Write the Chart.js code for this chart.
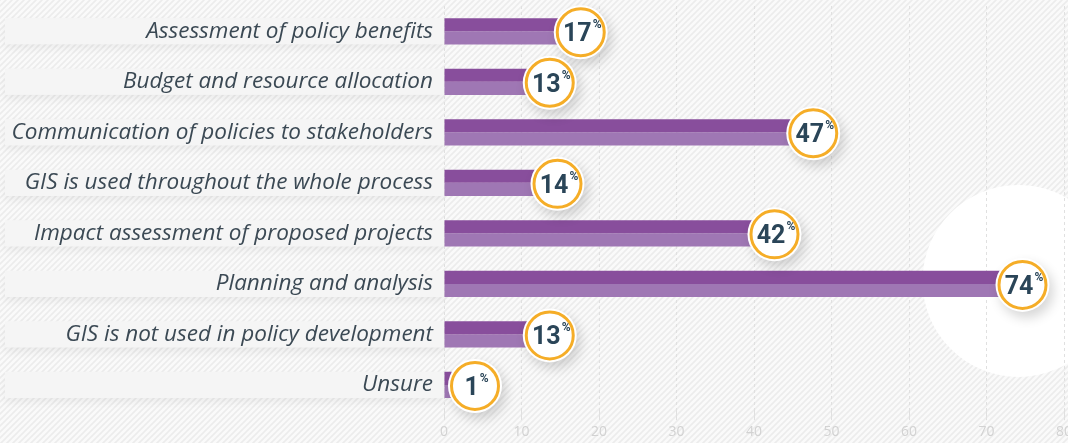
<!DOCTYPE html>
<html>
<head>
<meta charset="utf-8">
<script src="https://cdn.jsdelivr.net/npm/chart.js@4.4.1/dist/chart.umd.min.js"></script>
<style>
  body { margin: 0; background: #fff; }
  #wrap { width: 1068px; height: 443px; position: relative; }
</style>
</head>
<body>
<div id="wrap"><canvas id="gisChart"></canvas></div>
<script>
const categories = [
  'Assessment of policy benefits',
  'Budget and resource allocation',
  'Communication of policies to stakeholders',
  'GIS is used throughout the whole process',
  'Impact assessment of proposed projects',
  'Planning and analysis',
  'GIS is not used in policy development',
  'Unsure'
];
const shares = [17, 13, 47, 14, 42, 74, 13, 1];
const axisMax = 80;
const axisStep = 10;

function stripePattern(ctx) {
  const c = document.createElement('canvas');
  c.width = 6; c.height = 6;
  const p = c.getContext('2d');
  p.fillStyle = '#fafafa';
  p.fillRect(0, 0, 6, 6);
  p.strokeStyle = '#ececec';
  p.lineWidth = 1.6;
  p.beginPath();
  p.moveTo(-1, 7); p.lineTo(7, -1);
  p.moveTo(-1, 1); p.lineTo(1, -1);
  p.moveTo(5, 7); p.lineTo(7, 5);
  p.stroke();
  return ctx.createPattern(c, 'repeat');
}

function badgeX(chart, i) {
  const xs = chart.scales.x;
  return Math.max(xs.getPixelForValue(shares[i]) + 5, chart.chartArea.left + 31);
}
function rowY(chart, i) {
  const a = chart.getDatasetMeta(0).data[i];
  const b = chart.getDatasetMeta(1).data[i];
  return { top: a.y - a.height / 2, bottom: b.y + b.height / 2, mid: (a.y + b.y) / 2 };
}

const decor = {
  id: 'decor',
  beforeDraw(chart) {
    const ctx = chart.ctx;
    ctx.save();
    ctx.fillStyle = stripePattern(ctx);
    ctx.fillRect(0, 0, chart.width, chart.height);
    // soft white disc behind the largest value
    const top = shares.indexOf(Math.max(...shares));
    const r = rowY(chart, top);
    ctx.fillStyle = '#ffffff';
    ctx.beginPath();
    ctx.arc(badgeX(chart, top) - 4, r.mid - 3, 96, 0, Math.PI * 2);
    ctx.fill();
    // label bands
    categories.forEach((c, i) => {
      const y = rowY(chart, i);
      ctx.shadowColor = 'rgba(0,0,0,0.06)';
      ctx.shadowBlur = 8;
      ctx.shadowOffsetY = 4;
      ctx.fillStyle = '#f5f5f5';
      ctx.fillRect(5, y.top, chart.chartArea.left - 5, y.bottom - y.top);
    });
    ctx.restore();
  },
  afterDatasetsDraw(chart) {
    const ctx = chart.ctx;
    shares.forEach((v, i) => {
      const cx = badgeX(chart, i);
      const cy = rowY(chart, i).mid + 1;
      ctx.save();
      ctx.shadowColor = 'rgba(0,0,0,0.16)';
      ctx.shadowBlur = 12;
      ctx.shadowOffsetX = 4;
      ctx.shadowOffsetY = 6;
      ctx.fillStyle = '#ffffff';
      ctx.beginPath();
      ctx.arc(cx, cy, 27, 0, Math.PI * 2);
      ctx.fill();
      ctx.restore();
      ctx.save();
      ctx.strokeStyle = '#f5ad27';
      ctx.lineWidth = 3;
      ctx.beginPath();
      ctx.arc(cx, cy, 23.5, 0, Math.PI * 2);
      ctx.stroke();
      const num = String(v);
      ctx.font = 'bold 25px Roboto';
      const w = ctx.measureText(num).width;
      ctx.font = 'bold 12px Roboto';
      const pw = ctx.measureText('%').width;
      const x0 = cx - (w + pw) / 2 + 1;
      ctx.fillStyle = '#2a4558';
      ctx.textBaseline = 'alphabetic';
      ctx.textAlign = 'left';
      ctx.font = 'bold 25px Roboto';
      ctx.fillText(num, x0, cy + 9);
      ctx.font = 'bold 12px Roboto';
      ctx.fillText('%', x0 + w + 1, cy - 4);
      ctx.restore();
    });
  }
};

new Chart(document.getElementById('gisChart').getContext('2d'), {
  type: 'bar',
  data: {
    labels: categories,
    datasets: [
      { data: shares, backgroundColor: '#884e9c', categoryPercentage: 0.52, barPercentage: 1 },
      { data: shares, backgroundColor: '#9f77b4', categoryPercentage: 0.52, barPercentage: 1 }
    ]
  },
  options: {
    indexAxis: 'y',
    responsive: true,
    maintainAspectRatio: false,
    animation: false,
    layout: { padding: { top: 6, bottom: 0, right: 0, left: 0 } },
    plugins: { legend: { display: false }, tooltip: { enabled: false } },
    scales: {
      x: {
        min: 0,
        max: axisMax,
        ticks: { stepSize: axisStep, color: '#d2d2d2', font: { family: 'Open Sans', size: 14 }, padding: 3 },
        grid: { color: '#e0e0e0', tickLength: 10 },
        border: { display: false, dash: [3, 3] },
        afterFit(scale) { scale.paddingRight = 4; }
      },
      y: {
        grid: { display: false, drawTicks: false, tickLength: 0 },
        border: { display: false },
        ticks: { color: '#3b4954', font: { family: 'Open Sans', size: 22.5, style: 'italic' }, padding: 11 },
        afterFit(scale) {
          scale.width = 444;
          scale.paddingTop = 0;
          scale.paddingBottom = 0;
        }
      }
    }
  },
  plugins: [decor]
});
</script>
</body>
</html>
